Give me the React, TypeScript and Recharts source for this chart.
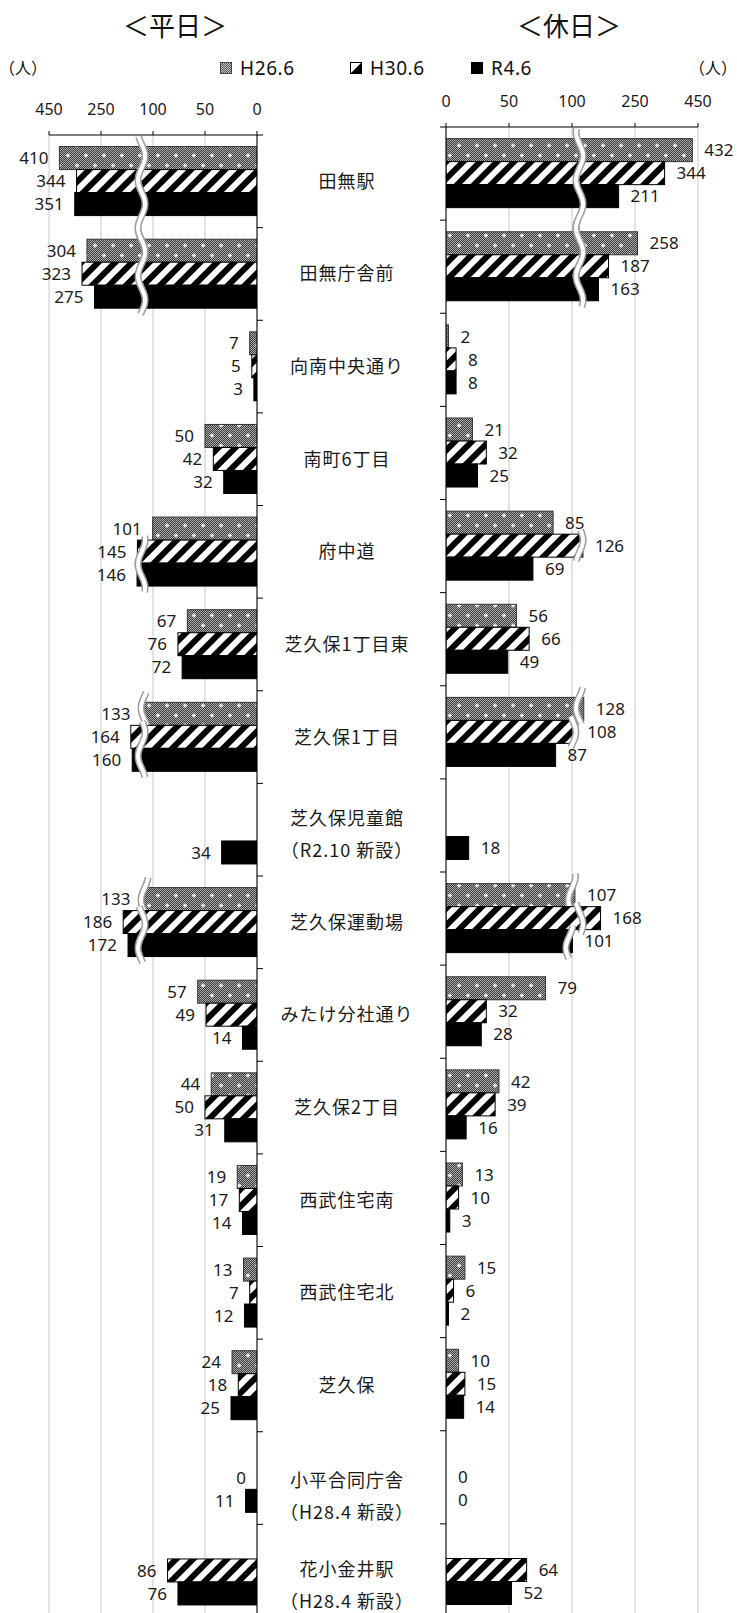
import React from 'react';
import { BarChart, Bar, XAxis, YAxis, CartesianGrid, LabelList } from 'recharts';

const CATEGORIES = [
  '田無駅', '田無庁舎前', '向南中央通り', '南町6丁目', '府中道', '芝久保1丁目東', '芝久保1丁目',
  '芝久保児童館\n（R2.10 新設）', '芝久保運動場', 'みたけ分社通り', '芝久保2丁目', '西武住宅南',
  '西武住宅北', '芝久保', '小平合同庁舎\n（H28.4 新設）', '花小金井駅\n（H28.4 新設）',
];
const SERIES_NAMES = ['H26.6', 'H30.6', 'R4.6'];

const WEEKDAY_H26 = [410, 304, 7, 50, 101, 67, 133, null, 133, 57, 44, 19, 13, 24, null, null];
const WEEKDAY_H30 = [344, 323, 5, 42, 145, 76, 164, null, 186, 49, 50, 17, 7, 18, 0, 86];
const WEEKDAY_R4 = [351, 275, 3, 32, 146, 72, 160, 34, 172, 14, 31, 14, 12, 25, 11, 76];

const HOLIDAY_H26 = [432, 258, 2, 21, 85, 56, 128, null, 107, 79, 42, 13, 15, 10, null, null];
const HOLIDAY_H30 = [344, 187, 8, 32, 126, 66, 108, null, 168, 32, 39, 10, 6, 15, 0, 64];
const HOLIDAY_R4 = [211, 163, 8, 25, 69, 49, 87, 18, 101, 28, 16, 3, 2, 14, 0, 52];

const AXIS_TICK_VALUES = [0, 50, 100, 250, 450];

// vertical nudge (px) of the two-line category labels, by category index
const LABEL_NUDGE: Record<number, number> = { 7: 5, 14: 18, 15: 15 };

// broken-axis mapping: each tick interval occupies one unit
const toUnits = (v: number | null) => {
  if (v == null) return null;
  for (let i = 1; i < AXIS_TICK_VALUES.length; i++) {
    if (v <= AXIS_TICK_VALUES[i]) {
      return i - 1 + (v - AXIS_TICK_VALUES[i - 1]) / (AXIS_TICK_VALUES[i] - AXIS_TICK_VALUES[i - 1]);
    }
  }
  return AXIS_TICK_VALUES.length - 1;
};

const buildRows = (a: (number | null)[], b: (number | null)[], c: (number | null)[]) =>
  CATEGORIES.map((name, i) => ({
    name,
    a: a[i], b: b[i], c: c[i],
    au: toUnits(a[i]), bu: toUnits(b[i]), cu: toUnits(c[i]),
  }));

const weekdayRows = buildRows(WEEKDAY_H26, WEEKDAY_H30, WEEKDAY_R4);
const holidayRows = buildRows(HOLIDAY_H26, HOLIDAY_H30, HOLIDAY_R4);

const UNIT_TICKS = AXIS_TICK_VALUES.map((_, i) => i);
const NUM_FONT = '"Noto Sans", "Open Sans", sans-serif';
const JP_FONT = '"Noto Sans CJK JP", "Noto Sans", sans-serif';

const FILLS = ['url(#pH26)', 'url(#pH30)', '#000'];
const STROKES = ['#333', '#000', '#000'];

const wavePath = (wx: number, y0: number, y1: number) => {
  const A = 3.5, P = 48;
  let d = '';
  for (let yy = y0; yy <= y1; yy += 1) {
    const xx = wx + A * Math.sin((2 * Math.PI * yy) / P);
    d += (d ? 'L' : 'M') + xx.toFixed(2) + ' ' + yy.toFixed(2);
  }
  return d;
};

const makeShape = (side: 'left' | 'right', rows: any[], rawKey: string, unitKey: string, idx: number, breakUnits: number) =>
  (props: any) => {
    const { x, y, width, height, payload, index } = props;
    const raw = payload ? payload[rawKey] : null;
    const units = payload ? payload[unitKey] : null;
    if (raw == null || x == null) return <g />;
    const l = Math.min(x, x + width);
    const w = Math.abs(width);
    let wave = null;
    if (units > 0 && w > 0 && raw > 100) {
      const ppu = w / units;
      const zero = side === 'left' ? l + w : l;
      const end = side === 'left' ? l : l + w;
      const brk = side === 'left' ? zero - breakUnits * ppu : zero + breakUnits * ppu;
      const crosses = side === 'left' ? end < brk + 10 : end > brk - 10;
      if (crosses) {
        const wx = side === 'left' ? Math.max(brk, end + 3) : Math.min(brk, end - 3);
        const next = rows[index + 1];
        const up = idx === 0 ? 10 : 4;
        const down = idx === 2 ? (next && next.a != null && next.a > 200 ? height + 2 : 6) : 4;
        const d = wavePath(wx, y - up, y + height + down);
        wave = (
          <g>
            <path d={d} fill="none" stroke="#9c9c9c" strokeWidth={7} />
            <path d={d} fill="none" stroke="#fff" strokeWidth={4} />
          </g>
        );
      }
    }
    return (
      <g>
        <rect x={l} y={y} width={w} height={height} fill={FILLS[idx]} stroke={STROKES[idx]} strokeWidth={1} />
        {wave}
      </g>
    );
  };

const makeValueLabel = (side: 'left' | 'right') => (props: any) => {
  const vb = props.viewBox && props.viewBox.width != null ? props.viewBox : props;
  const { x, y, width, height } = vb;
  const value = props.value;
  if (value == null || x == null) return null;
  const l = Math.min(x, x + width);
  const r = Math.max(x, x + width);
  const tx = side === 'left' ? l - 11 : r + 12;
  return (
    <text x={tx} y={y + height / 2} dy="0.36em" textAnchor={side === 'left' ? 'end' : 'start'}
      fontSize={17} fontFamily={NUM_FONT} fill="#1a1a1a">{value}</text>
  );
};

const TopTick = (props: any) => {
  const { x, y, payload } = props;
  return (
    <text x={x} y={y - 14.5} textAnchor="middle" fontSize={16} fontFamily={NUM_FONT} fill="#1a1a1a">
      {AXIS_TICK_VALUES[payload.value]}
    </text>
  );
};

const makeCatTick = (half: number, dir: 1 | -1, showText: boolean, count: number) => (props: any) => {
  const { x, y, payload, index } = props;
  const lines = String(payload.value).split('\n');
  const nudge = LABEL_NUDGE[index] || 0;
  return (
    <g>
      <line x1={x} x2={x + dir * 6} y1={y - half} y2={y - half} stroke="#000" strokeWidth={1} />
      {index === count - 1 && (
        <line x1={x} x2={x + dir * 6} y1={y + half} y2={y + half} stroke="#000" strokeWidth={1} />
      )}
      {showText && lines.map((ln, i) => (
        <text key={i} x={x + 90} y={y + nudge + (lines.length === 1 ? 0 : (i === 0 ? -16 : 16))} dy="0.36em"
          textAnchor="middle" fontSize={18} letterSpacing={1} fontFamily={JP_FONT} fill="#1a1a1a">{ln}</text>
      ))}
    </g>
  );
};

const CHART_H = 1617;
const LEFT_TOP = 135;
const RIGHT_TOP = 127;
const N = CATEGORIES.length;

const Patterns = () => (
  <svg width={0} height={0} style={{ position: 'absolute', left: 0, top: 0 }}>
    <defs>
      <pattern id="chk" width={2} height={2} patternUnits="userSpaceOnUse">
        <rect width={2} height={2} fill="#3c3c3c" />
        <rect width={1} height={1} fill="#ababab" />
        <rect x={1} y={1} width={1} height={1} fill="#ababab" />
      </pattern>
      <pattern id="pH26" width={18} height={20} patternUnits="userSpaceOnUse">
        <rect width={18} height={20} fill="url(#chk)" />
        <path d="M3 5.5h4M5 3.5v4M12 15.5h4M14 13.5v4" stroke="#fff" strokeWidth={1.3} />
      </pattern>
      <pattern id="pH30" width={12} height={12} patternUnits="userSpaceOnUse" patternTransform="rotate(45)">
        <rect width={12} height={12} fill="#fff" />
        <rect width={6} height={12} fill="#000" />
      </pattern>
      <pattern id="legChk" width={2} height={2} patternUnits="userSpaceOnUse">
        <rect width={2} height={2} fill="#555" />
        <rect width={1} height={1} fill="#c8c8c8" />
        <rect x={1} y={1} width={1} height={1} fill="#c8c8c8" />
      </pattern>
    </defs>
  </svg>
);

const LegendIcon = ({ idx }: { idx: number }) => (
  <svg width={12} height={12} style={{ display: 'block' }}>
    {idx === 0 && <rect x={0.5} y={0.5} width={11} height={11} fill="url(#legChk)" stroke="#444" />}
    {idx === 1 && (
      <g>
        <rect x={0.5} y={0.5} width={11} height={11} fill="#fff" stroke="#000" />
        <path d="M11.5 0.5 L11.5 11.5 L0.5 11.5 Z" fill="#000" />
      </g>
    )}
    {idx === 2 && <rect x={0} y={0} width={12} height={12} fill="#000" />}
  </svg>
);

const LEGEND_X = [220, 350, 471];

export default function App() {
  const leftHalf = (CHART_H - LEFT_TOP) / N / 2;
  const rightHalf = (CHART_H - RIGHT_TOP) / N / 2;
  return (
    <div style={{ position: 'fixed', left: 0, top: 0, width: 737, height: 1613, overflow: 'hidden', background: '#fff' }}>
      <Patterns />
      <div style={{ position: 'absolute', left: 75, width: 200, top: 8, textAlign: 'center', fontSize: 26, fontFamily: JP_FONT, color: '#111', lineHeight: '34px' }}>＜平日＞</div>
      <div style={{ position: 'absolute', left: 469, width: 200, top: 8, textAlign: 'center', fontSize: 26, fontFamily: JP_FONT, color: '#111', lineHeight: '34px' }}>＜休日＞</div>
      <div style={{ position: 'absolute', left: -1, top: 56, fontSize: 16, fontFamily: JP_FONT, color: '#111', lineHeight: '22px' }}>（人）</div>
      <div style={{ position: 'absolute', left: 689, top: 56, fontSize: 16, fontFamily: JP_FONT, color: '#111', lineHeight: '22px' }}>（人）</div>
      {SERIES_NAMES.map((s, i) => (
        <div key={s} style={{ position: 'absolute', left: LEGEND_X[i], top: 56, height: 24, display: 'flex', alignItems: 'center', fontSize: 19, fontFamily: NUM_FONT, color: '#111', letterSpacing: 0.6 }}>
          <LegendIcon idx={i} />
          <span style={{ marginLeft: 8 }}>{s}</span>
        </div>
      ))}

      <div style={{ position: 'absolute', left: 0, top: 0 }}>
        <BarChart layout="vertical" width={445} height={CHART_H} data={weekdayRows}
          margin={{ top: 0, right: 0, bottom: 0, left: 49 }} barCategoryGap="12.5%" barGap={0}>
          <CartesianGrid horizontal={false} stroke="#d4d4d4" strokeWidth={1.3} />
          <XAxis type="number" orientation="top" reversed domain={[0, 4]} ticks={UNIT_TICKS} interval={0}
            height={LEFT_TOP} tickSize={4} stroke="#000" tick={TopTick} allowDataOverflow />
          <YAxis type="category" dataKey="name" orientation="right" width={188} tickSize={0} tickMargin={0}
            tickLine={false} axisLine={{ stroke: '#000' }} interval={0}
            tick={makeCatTick(leftHalf, 1, true, N)} />
          {(['a', 'b', 'c'] as const).map((k, i) => (
            <Bar key={k} dataKey={k + 'u'} name={SERIES_NAMES[i]} isAnimationActive={false}
              shape={makeShape('left', weekdayRows, k, k + 'u', i, 2.22)}>
              <LabelList dataKey={k} content={makeValueLabel('left')} />
            </Bar>
          ))}
        </BarChart>
      </div>

      <div style={{ position: 'absolute', left: 400, top: 0 }}>
        <BarChart layout="vertical" width={337} height={CHART_H} data={holidayRows}
          margin={{ top: 0, right: 39, bottom: 0, left: 0 }} barCategoryGap="12.5%" barGap={0}>
          <CartesianGrid horizontal={false} stroke="#d4d4d4" strokeWidth={1.3} />
          <XAxis type="number" orientation="top" domain={[0, 4]} ticks={UNIT_TICKS} interval={0}
            height={RIGHT_TOP} tickSize={4} stroke="#000" tick={TopTick} allowDataOverflow />
          <YAxis type="category" dataKey="name" orientation="left" width={46} tickSize={0} tickMargin={0}
            tickLine={false} axisLine={{ stroke: '#000' }} interval={0}
            tick={makeCatTick(rightHalf, -1, false, N)} />
          {(['a', 'b', 'c'] as const).map((k, i) => (
            <Bar key={k} dataKey={k + 'u'} name={SERIES_NAMES[i]} isAnimationActive={false}
              shape={makeShape('right', holidayRows, k, k + 'u', i, 2.12)}>
              <LabelList dataKey={k} content={makeValueLabel('right')} />
            </Bar>
          ))}
        </BarChart>
      </div>
    </div>
  );
}
